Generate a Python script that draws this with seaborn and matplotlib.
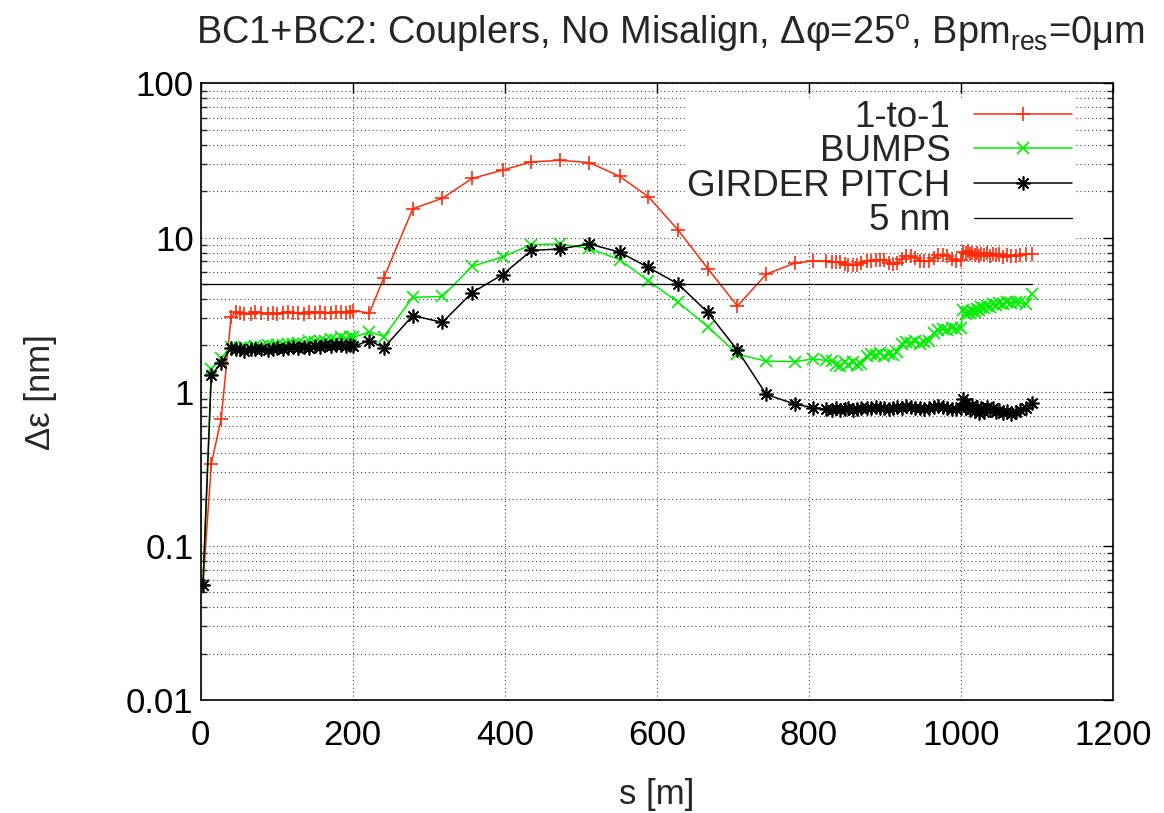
import numpy as np
import pandas as pd
import matplotlib
matplotlib.use("Agg")
import matplotlib.pyplot as plt
import matplotlib.ticker as mticker
import seaborn as sns

# -----------------------------
# Data
# -----------------------------
s_m = [3, 14, 27, 40,
       46, 52, 57, 66, 72, 80, 88, 95, 100, 108, 115, 121, 128, 136, 142, 150,
       157, 164, 172, 178, 185, 191, 197, 201,
       222, 241, 279, 318, 357, 397, 435, 473, 511, 551, 589, 628, 667, 706,
       744, 782, 805,
       822, 830, 836, 841, 847, 852, 858, 863, 869, 876, 882, 888, 893, 899,
       905, 911, 916, 922, 928, 934, 940, 946, 952, 958, 964, 970, 976, 982,
       988, 994, 1000, 1003, 1006, 1009, 1012, 1015, 1018, 1021, 1024, 1027,
       1030, 1034, 1038, 1042, 1046, 1050, 1055, 1060, 1066, 1072, 1078, 1085,
       1093]

eps_one_to_one = [0.056, 0.34, 0.67, 3.05,
                  3.3, 3.25, 3.2, 3.2, 3.3, 3.25, 3.2, 3.25, 3.2, 3.25, 3.3, 3.25,
                  3.25, 3.2, 3.3, 3.25, 3.3, 3.25, 3.25, 3.3, 3.3, 3.25, 3.3, 3.35,
                  3.25, 5.5, 15.4, 18.0, 24.2, 27.4, 31.0, 31.7, 30.7, 25.0, 18.4,
                  11.2, 6.3, 3.6, 5.8, 6.85, 7.05,
                  7.0, 6.9, 6.95, 6.9, 6.7, 6.6, 6.65, 6.6, 6.8, 7.0, 7.1, 7.2,
                  7.15, 7.2, 6.8, 6.7, 6.8, 7.3, 7.55, 7.6, 7.4, 7.1, 7.0, 7.0,
                  7.4, 7.7, 7.75, 7.6, 7.3, 7.1, 7.15, 8.1, 7.9, 8.2, 7.8, 8.0,
                  7.7, 7.9, 7.6, 7.8, 7.7, 7.9, 7.6, 7.8, 7.7, 7.85, 7.5, 7.7,
                  7.6, 7.65, 7.75, 7.8, 7.8]

eps_bumps = [0.056, 1.4, 1.66, 1.95,
             1.9, 1.92, 1.95, 1.93, 1.97, 1.95, 2.0, 1.98, 2.02, 2.0, 2.05, 2.03,
             2.08, 2.05, 2.12, 2.1, 2.15, 2.13, 2.2, 2.18, 2.25, 2.2, 2.28, 2.25,
             2.45, 2.28, 4.1, 4.15, 6.5, 7.5, 9.0, 9.1, 8.5, 7.2, 5.25, 3.8,
             2.65, 1.75, 1.58, 1.57, 1.63,
             1.6, 1.58, 1.5, 1.48, 1.55, 1.5, 1.55, 1.5, 1.52, 1.7, 1.75, 1.72,
             1.78, 1.7, 1.75, 1.72, 1.8, 2.05, 2.1, 2.08, 2.12, 2.05, 2.1, 2.15,
             2.4, 2.5, 2.55, 2.5, 2.6, 2.55, 2.6, 3.4, 3.2, 3.3, 3.25, 3.35,
             3.3, 3.45, 3.4, 3.55, 3.5, 3.6, 3.55, 3.7, 3.65, 3.75, 3.7, 3.8,
             3.75, 3.85, 3.8, 3.7, 4.3]

eps_girder = [0.056, 1.28, 1.54, 1.92,
              1.88, 1.9, 1.85, 1.9, 1.88, 1.9, 1.87, 1.9, 1.92, 1.9, 1.93, 1.95,
              1.92, 1.95, 1.93, 1.97, 1.95, 2.0, 1.97, 2.0, 2.02, 1.98, 2.0, 1.97,
              2.15, 1.93, 3.12, 2.82, 4.4, 5.75, 8.25, 8.45, 9.1, 8.05, 6.4, 5.0,
              3.27, 1.86, 0.96, 0.83, 0.79,
              0.77, 0.76, 0.78, 0.76, 0.77, 0.78, 0.76, 0.77, 0.78, 0.79, 0.78,
              0.8, 0.79, 0.78, 0.77, 0.79, 0.8, 0.79, 0.81, 0.8, 0.79, 0.78,
              0.77, 0.78, 0.8, 0.81, 0.8, 0.78, 0.77, 0.77, 0.78, 0.9, 0.85,
              0.8, 0.76, 0.82, 0.75, 0.8, 0.73, 0.78, 0.74, 0.8, 0.76, 0.78,
              0.74, 0.76, 0.73, 0.75, 0.72, 0.74, 0.76, 0.78, 0.84]

ref_level_nm = 5.0

series_labels = ["1-to-1", "BUMPS", "GIRDER PITCH", "5 nm"]
y_tick_values = [0.01, 0.1, 1, 10, 100]
y_tick_labels = ["0.01", "0.1", "1", "10", "100"]
x_tick_values = [0, 200, 400, 600, 800, 1000, 1200]

# -----------------------------
# Style
# -----------------------------
sns.set_theme(style="white")
plt.rcParams["font.family"] = ["Liberation Sans", "DejaVu Sans"]
plt.rcParams["mathtext.fontset"] = "custom"
plt.rcParams["mathtext.rm"] = "Liberation Sans"
plt.rcParams["mathtext.it"] = "Liberation Sans:italic"
plt.rcParams["mathtext.bf"] = "Liberation Sans:bold"

FS = 25

fig = plt.figure(figsize=(11.64, 8.13), dpi=100)
ax = fig.add_axes([0.1724, 0.1390, 0.7838, 0.7583])

df = pd.DataFrame({"s": s_m, "one": eps_one_to_one, "bumps": eps_bumps,
                   "girder": eps_girder})
df["ref"] = ref_level_nm

styles = [
    ("one", "#ff2a0a", "+", 10.0),
    ("bumps", "#00ee00", "x", 8.5),
    ("girder", "black", (8, 2, 0), 10.0),
]
for (col, color, mk, ms), lab in zip(styles, series_labels[:3]):
    sns.lineplot(data=df, x="s", y=col, ax=ax, color=color, lw=1.1,
                 marker=mk, markersize=ms, markeredgecolor=color,
                 markeredgewidth=1.2, estimator=None, sort=False, label=lab,
                 legend=False)

sns.lineplot(data=df, x="s", y="ref", ax=ax, color="black", lw=0.9,
             estimator=None, sort=False, label=series_labels[3], legend=False)

ax.set_yscale("log")
ax.set_xlim(0, 1200)
ax.set_ylim(0.01, 100)
ax.set_xticks(x_tick_values)
ax.set_xticklabels([str(v) for v in x_tick_values])
ax.set_yticks(y_tick_values)
ax.set_yticklabels(y_tick_labels)
ax.yaxis.set_minor_locator(mticker.LogLocator(base=10, subs=np.arange(2, 10)))
ax.yaxis.set_minor_formatter(mticker.NullFormatter())

ax.tick_params(which="major", direction="in", length=7, width=1.0,
               top=True, right=True, labelsize=FS, colors="black")
ax.tick_params(which="minor", direction="in", length=4, width=1.0,
               left=True, right=True, top=False, bottom=False)
ax.tick_params(axis="x", which="major", pad=14)
ax.tick_params(axis="y", which="major", pad=5)

grid_kw = dict(color="#444444", lw=0.8, ls=(0, (1, 2.5)))
ax.grid(True, which="major", axis="x", **grid_kw)
ax.grid(True, which="both", axis="y", **grid_kw)
ax.set_axisbelow(True)

for sp in ax.spines.values():
    sp.set_color("black")
    sp.set_linewidth(1.2)

ax.set_xlabel("s [m]", fontsize=FS, va="center")
ax.xaxis.set_label_coords(0.5, -0.154)
ax.set_ylabel("Δε [nm]", fontsize=FS, va="center")
ax.yaxis.set_label_coords(-0.176, 0.5)

fig.text(670 / 1164, 1 - 45 / 813,
         r"BC1+BC2: Couplers, No Misalign, Δφ=25$^{\mathrm{o}}$, Bpm$_{\mathrm{res}}$=0μm",
         ha="center", va="baseline", fontsize=27.4)

# opaque key box: above the grid, below the data lines
leg = ax.legend(loc="upper right", bbox_to_anchor=(0.957, 0.977),
                markerfirst=False, fontsize=26.5, frameon=True, fancybox=False,
                framealpha=1.0, facecolor="white", edgecolor="white",
                handlelength=2.65, handletextpad=0.65, labelspacing=-0.01,
                borderpad=0.05, borderaxespad=0.0)
leg.set_zorder(1.5)

fig.savefig("out.png", dpi=100)
